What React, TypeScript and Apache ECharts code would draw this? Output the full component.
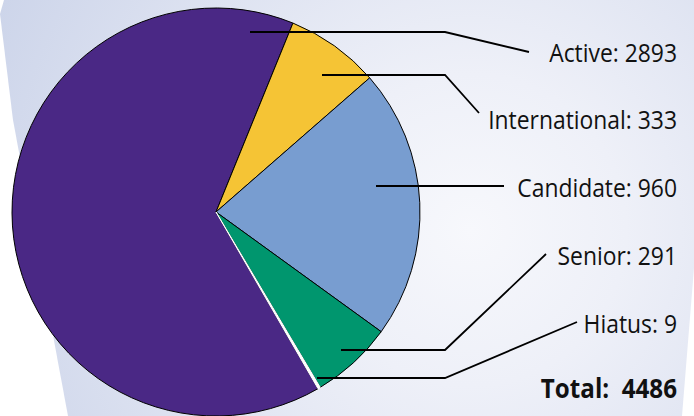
import React, { useEffect, useRef } from 'react';
import * as echarts from 'echarts';

// ---- data ----
const categories = ['Active', 'International', 'Candidate', 'Senior', 'Hiatus'];
const counts = [2893, 333, 960, 291, 9];
const totalName = 'Total';

// ---- styles / layout ----
const sliceColors = ['#4a2885', '#f5c435', '#789dd0', '#00966e', '#ffffff'];
const labelRight = 677;
const labelY = [52, 119, 187, 255, 323];
const totalY = 388;
const leaderStart = [[250, 32], [322, 75], [376, 186], [341, 350], [317, 378]];
const leaderBend = [[445, 32], [445, 75], [440, 186], [445, 350], [445, 378]];
const leaderEnd = [[529, 52], [479, 113], [504, 186], [546, 254], [577, 322]];
const bgPoints = [[4, 0], [694, 0], [694, 268], [682, 416], [68, 416], [13, 120], [0, 14]];
const labelFont = '"Open Sans", "Noto Sans", sans-serif';

export default function App() {
  const ref = useRef<HTMLDivElement>(null);
  useEffect(() => {
    document.body.style.margin = '0';
    const chart = echarts.init(ref.current!, undefined, { renderer: 'svg' });
    const total = counts.reduce((a, b) => a + b, 0);
    const bg = new echarts.graphic.RadialGradient(470, 230, 520, [
      { offset: 0, color: '#f7f8fc' },
      { offset: 0.3, color: '#eef0f8' },
      { offset: 1, color: '#cdd5ea' },
    ], true);

    const leaders = categories.map((_, i) => ({
      type: 'polyline',
      z: 10,
      silent: true,
      shape: { points: [leaderStart[i], leaderBend[i], leaderEnd[i]] },
      style: { stroke: '#000', lineWidth: 1.8, fill: null },
    }));
    const labels = categories.map((name, i) => ({
      type: 'text',
      z: 10,
      x: labelRight,
      y: labelY[i],
      scaleX: 0.88,
      style: {
        text: name + ': ' + counts[i],
        align: 'right',
        verticalAlign: 'middle',
        fontFamily: labelFont,
        fontSize: 26,
        fill: '#111',
      },
    }));

    chart.setOption({
      animation: false,
      graphic: [
        {
          type: 'polygon',
          z: 0,
          silent: true,
          shape: { points: bgPoints },
          style: { fill: bg },
        },
        ...leaders,
        ...labels,
        {
          type: 'text',
          z: 10,
          x: labelRight,
          y: totalY,
          scaleX: 0.93,
          style: {
            text: totalName + ':  ' + total,
            align: 'right',
            verticalAlign: 'middle',
            fontFamily: labelFont,
            fontWeight: 'bold',
            fontSize: 26,
            fill: '#111',
          },
        },
      ],
      series: [
        {
          type: 'pie',
          z: 2,
          center: [216, 212],
          radius: 204,
          startAngle: 300,
          clockwise: true,
          emphasis: { disabled: true },
          label: { show: false },
          labelLine: { show: false },
          data: categories.map((name, i) => ({
            name,
            value: counts[i],
            itemStyle: i === categories.length - 1
              ? { color: sliceColors[i], borderColor: '#fff', borderWidth: 1 }
              : { color: sliceColors[i] },
          })),
          itemStyle: { borderColor: '#000', borderWidth: 1 },
        },
      ],
    });
    return () => chart.dispose();
  }, []);
  return <div ref={ref} style={{ width: 694, height: 416 }} />;
}
